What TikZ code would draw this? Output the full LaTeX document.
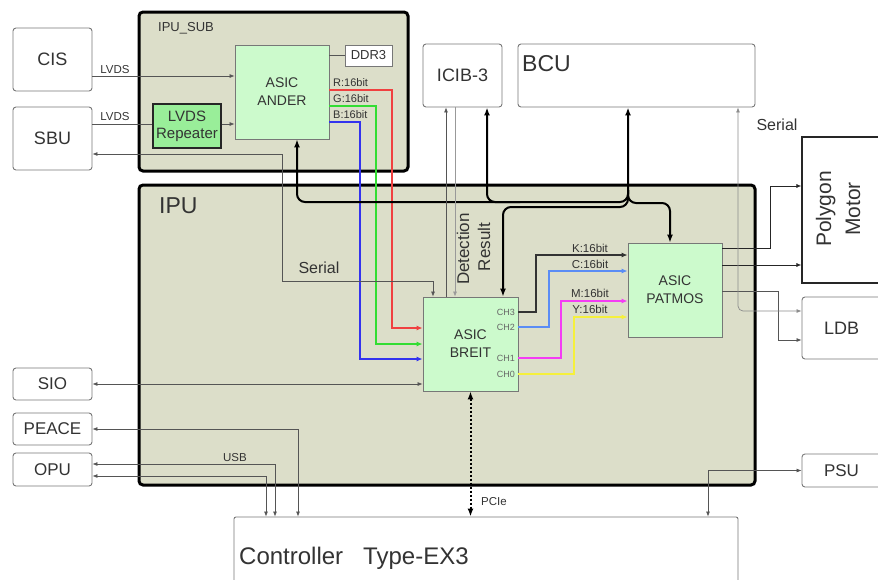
\documentclass[tikz,border=0pt]{standalone}
\usepackage{fontspec}
\setmainfont{Liberation Sans}
\usetikzlibrary{arrows.meta}
\definecolor{ipubg}{HTML}{DCDEC9}
\definecolor{asicgreen}{HTML}{CCFACC}
\definecolor{repgreen}{HTML}{99EE99}
\definecolor{linegray}{HTML}{555555}
\definecolor{boxgray}{HTML}{777777}
\definecolor{txtgray}{HTML}{333333}
\definecolor{rline}{HTML}{F04040}
\definecolor{gline}{HTML}{33DD33}
\definecolor{bline}{HTML}{3333EE}
\definecolor{cline}{HTML}{5A8CF5}
\definecolor{mline}{HTML}{F43CF4}
\definecolor{yline}{HTML}{F5F03C}
\newcommand{\pxfont}[2]{\fontsize{#1}{#2}\selectfont}

\begin{document}
\begin{tikzpicture}[
  x=1pt,
  y=-1pt,
  frame/.style={draw=black, line width=3pt, rounded corners=4pt, fill=ipubg, inner sep=0pt},
  extbox/.style={draw=boxgray, line width=0.9pt, rounded corners=3pt, fill=white, inner sep=0pt,
    text=txtgray, minimum width=79pt},
  asic/.style={draw=boxgray, line width=0.8pt, fill=asicgreen, inner sep=0pt, minimum width=94pt,
    minimum height=94pt, align=center, text=txtgray, font=\pxfont{14}{18}},
  lbl/.style={inner sep=0pt, text=txtgray},
  sig/.style={draw=linegray, line width=0.7pt, -{Latex[length=5pt,width=4pt]}},
  twoway/.style={sig, {Latex[length=5pt,width=4pt]}-{Latex[length=5pt,width=4pt]}},
  bus/.style={draw=black, line width=2pt, rounded corners=8pt, -{Latex[length=8pt,width=6pt]}},
  chan/.style={line width=1.3pt, -{Latex[length=6pt,width=5pt]}}
]
\useasboundingbox (0,0) rectangle (878,579);

% frames
\node[frame, minimum width=269pt, minimum height=159pt] (ipusub) at (273.5,91.5) {};
\node[frame, minimum width=616pt, minimum height=300pt] (ipu) at (447,335) {};
\node[lbl, anchor=west, font=\pxfont{13}{15}] (ipusubname) at (158,28) {IPU\_SUB};
\node[lbl, anchor=west, font=\pxfont{23}{26}] (ipuname) at (159,206) {IPU};

% outside units
\node[extbox, minimum height=63pt, font=\pxfont{18}{20}] (cis) at (52.5,59.5) {CIS};
\node[extbox, minimum height=63pt, font=\pxfont{18}{20}] (sbu) at (52.5,138.5) {SBU};
\node[extbox, minimum height=32pt, font=\pxfont{17}{20}] (sio) at (52.5,384) {SIO};
\node[extbox, minimum height=32pt, font=\pxfont{17}{20}] (peace) at (52.5,429) {PEACE};
\node[extbox, minimum height=33pt, font=\pxfont{17}{20}] (opu) at (52.5,469.5) {OPU};
\node[extbox, minimum height=63pt, font=\pxfont{18}{20}] (icib) at (462.5,75.5) {ICIB-3};
\node[extbox, minimum width=237pt, minimum height=63pt] (bcu) at (636.5,75.5) {};
\node[lbl, anchor=north west, font=\pxfont{23}{26}] (bcuname) at (522,55) {BCU};
\node[extbox, minimum height=146pt, rounded corners=0pt, draw=black!85, line width=1.2pt] (poly) at (841.5,210) {};
\node[lbl, rotate=90, align=center, font=\pxfont{21}{29}] (polyname) at (838,209) {Polygon\\Motor};
\node[extbox, minimum height=62pt, font=\pxfont{18}{20}] (ldb) at (841.5,328) {LDB};
\node[extbox, minimum height=33pt, font=\pxfont{17}{20}] (psu) at (841.5,470.5) {PSU};
\node[extbox, minimum width=504pt, minimum height=73pt, rounded corners=2pt] (ctrl) at (486,553.5) {};
\node[lbl, anchor=west, font=\pxfont{24}{28}] (ctrlname) at (239,558) {Controller\hspace{20pt}Type-EX3};

% asics
\node[asic] (ander) at (282,92) {ASIC\\ANDER};
\node[asic, minimum width=95pt] (breit) at (470.5,344) {ASIC\\BREIT};
\node[asic] (patmos) at (675,290) {ASIC\\PATMOS};
\node[extbox, minimum width=47pt, minimum height=21pt, rounded corners=0pt, font=\pxfont{13}{15}] (ddr) at (368.5,55.5) {DDR3};
\node[draw=black!85, line width=1.2pt, fill=repgreen, minimum width=68pt, minimum height=44pt, inner sep=0pt,
  align=center, font=\pxfont{15}{17}, text=txtgray] (rep) at (187,126) {LVDS\\Repeater};
\foreach \ch/\y in {CH3/312, CH2/327, CH1/358, CH0/374}
  \node[lbl, anchor=east, font=\pxfont{9}{10}, text=black!60] (\ch) at (515,\y) {\ch};

% lvds side
\draw[sig] (cis.east |- 0,76) -- (ander.west |- 0,76);
\draw[sig, -] (sbu.east |- 0,124) -- (rep.west |- 0,124);
\draw[sig] (rep.east |- 0,124) -- (ander.west |- 0,124);
\draw[sig, -] (ander.east |- ddr.west) -- (ddr.west);
\node[lbl, font=\pxfont{11.5}{13}] (lvdsa) at (115,70) {LVDS};
\node[lbl, font=\pxfont{11.5}{13}] (lvdsb) at (115,117) {LVDS};

% rgb
\draw[chan, rline] (ander.east |- 0,90) -- (392,90) |- (breit.west |- 0,328);
\draw[chan, gline] (ander.east |- 0,106) -- (376,106) |- (breit.west |- 0,344);
\draw[chan, bline] (ander.east |- 0,122) -- (360,122) |- (breit.west |- 0,359);
\node[lbl, anchor=west, font=\pxfont{11}{12}] (rlbl) at (333,83) {R:16bit};
\node[lbl, anchor=west, font=\pxfont{11}{12}] (glbl) at (333,99) {G:16bit};
\node[lbl, anchor=west, font=\pxfont{11}{12}] (blbl) at (333,115) {B:16bit};

% bus
\draw[bus, {Latex[length=8pt,width=6pt]}-{Latex[length=8pt,width=6pt]}] ([xshift=15pt]ander.south) |- (628,202) -- (bcu.south -| 628,0);
\draw[bus] (520,202) -| (icib.south -| 487,0);
\draw[bus] (628,190) |- (670,203) -- (patmos.north -| 670,0);
\draw[bus] (628,190) |- (503,207) -- (breit.north -| 503,0);

% detection / result
\draw[sig] (breit.north -| 446,0) -- (icib.south -| 446,0);
\draw[sig, draw=black!40] (icib.south -| 455,0) -- (breit.north -| 455,0);
\node[lbl, rotate=90, font=\pxfont{17}{20}] (detlbl) at (463,249) {Detection};
\node[lbl, rotate=90, font=\pxfont{17}{20}] (reslbl) at (484,247) {Result};

% serial, sio, peace, opu
\draw[twoway] (sbu.east |- 0,154) -| (282,281) -| (breit.north -| 433,0);
\node[lbl, font=\pxfont{16}{18}] (seriala) at (319,268) {Serial};
\draw[twoway] (sio.east) -- (breit.west |- sio.east);
\draw[twoway] (peace.east) -| (ctrl.north -| 298,0);
\draw[twoway] (opu.east |- 0,464) -| (ctrl.north -| 275,0);
\draw[twoway] (opu.east |- 0,476) -| (ctrl.north -| 266,0);
\node[lbl, font=\pxfont{11.5}{13}] (usblbl) at (235,458) {USB};

% pcie and psu
\draw[line width=2pt, dotted, {Latex[length=8pt,width=6pt]}-{Latex[length=8pt,width=6pt]}] (breit.south) -- (ctrl.north -| breit.south);
\node[lbl, anchor=west, font=\pxfont{11.5}{13}] (pcielbl) at (481,502) {PCIe};
\draw[twoway] (psu.west) -| (ctrl.north -| 708,0);

% cmyk
\draw[chan, black!80] (breit.east |- 0,312) -- (536,312) |- (patmos.west |- 0,255);
\draw[chan, cline] (breit.east |- 0,327) -- (549,327) |- (patmos.west |- 0,271);
\draw[chan, mline] (breit.east |- 0,358) -- (561,358) |- (patmos.west |- 0,301);
\draw[chan, yline] (breit.east |- 0,374) -- (574,374) |- (patmos.west |- 0,317);
\node[lbl, font=\pxfont{11.5}{13}] (klbl) at (590,248) {K:16bit};
\node[lbl, font=\pxfont{11.5}{13}] (clbl) at (590,264) {C:16bit};
\node[lbl, font=\pxfont{11.5}{13}] (mlbl) at (590,293) {M:16bit};
\node[lbl, font=\pxfont{11.5}{13}] (ylbl) at (590,309) {Y:16bit};

% patmos outputs
\draw[sig, draw=black!85] (patmos.east |- 0,248) -- (770,248) |- (poly.west |- 0,186);
\draw[sig, draw=black!85] (patmos.east |- 0,265) -- (poly.west |- 0,265);
\draw[sig] (patmos.east |- 0,291) -- (778,291) |- (ldb.west |- 0,340);
\draw[twoway, draw=black!45, rounded corners=5pt] (bcu.south -| 738,0) |- (ldb.west |- 0,311);
\node[lbl, font=\pxfont{16}{18}] (serialb) at (777,125) {Serial};
\end{tikzpicture}
\end{document}
